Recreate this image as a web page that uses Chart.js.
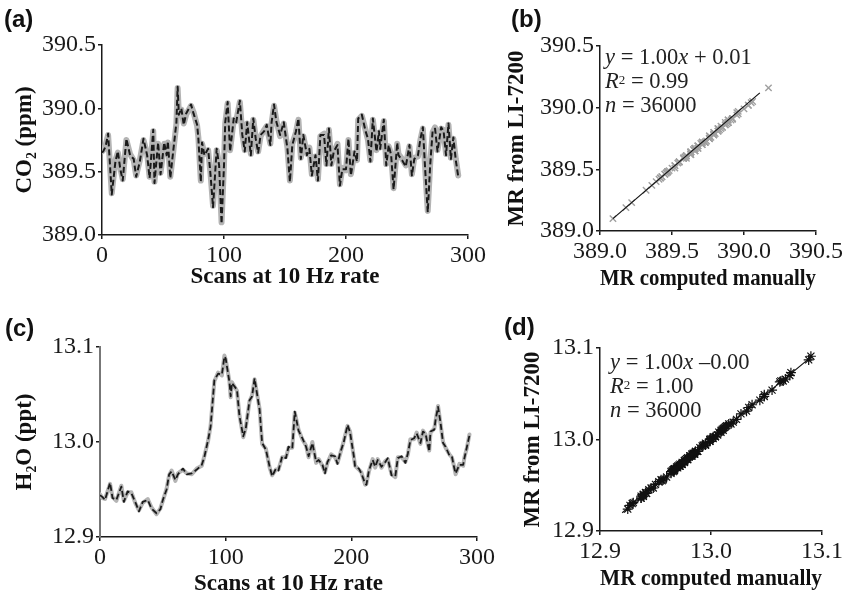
<!DOCTYPE html>
<html>
<head>
<meta charset="utf-8">
<script src="https://cdn.jsdelivr.net/npm/chart.js@4.4.1/dist/chart.umd.min.js"></script>
<style>
    body { margin: 0; background: #fff; width: 844px; height: 597px; position: relative; overflow: hidden; }
    canvas { position: absolute; }
    .lbl { position: absolute; font: bold 24px 'Liberation Sans', Arial, sans-serif; color: #111; line-height: 26px; }
    .eq { position: absolute; font: 22.5px 'Liberation Serif', serif; color: #222; line-height: 24px; white-space: nowrap; }
    .eq sup { font-size: 13px; vertical-align: top; position: relative; top: -1px; }
</style>
</head>
<body>
<canvas id="chartA" width="500" height="300" style="left:0;top:0"></canvas>
<canvas id="chartB" width="364" height="300" style="left:480px;top:0"></canvas>
<canvas id="chartC" width="500" height="297" style="left:0;top:300px"></canvas>
<canvas id="chartD" width="344" height="297" style="left:500px;top:300px"></canvas>

<div class="lbl" style="left:4px;top:6px">(a)</div>
<div class="lbl" style="left:511px;top:6px">(b)</div>
<div class="lbl" style="left:5px;top:315px">(c)</div>
<div class="lbl" style="left:504px;top:314px">(d)</div>

<div class="eq" style="left:605px;top:45px"><i>y</i> = 1.00<i>x</i> + 0.01<br><i>R</i><sup>2</sup> = 0.99<br><i>n</i> = 36000</div>
<div class="eq" style="left:610px;top:350px"><i>y</i> = 1.00<i>x</i> –0.00<br><i>R</i><sup>2</sup> = 1.00<br><i>n</i> = 36000</div>

<script>
    // ==================== DATA ====================
    // (a) CO2 over 300 scans: manual computation vs LI-7200 output
    const co2Scans = [
        0, 1, 3, 5, 8, 11, 13, 15, 17, 20,
        23, 26, 28, 31, 34, 37, 39, 42, 43, 46,
        48, 51, 53, 54, 56, 58, 61, 62, 63, 65,
        67, 69, 73, 75, 78, 79, 81, 82, 84, 87,
        89, 91, 94, 96, 98, 100, 101, 103, 105, 108,
        110, 113, 115, 117, 119, 122, 124, 126, 128, 130,
        133, 135, 138, 139, 141, 143, 146, 149, 152, 154,
        156, 159, 161, 163, 165, 168, 170, 172, 175, 177,
        179, 182, 184, 186, 188, 190, 193, 195, 197, 200,
        202, 204, 207, 209, 210, 213, 216, 218, 220, 222,
        225, 227, 228, 231, 233, 235, 237, 239, 242, 243,
        246, 249, 252, 254, 256, 259, 261, 263, 265, 267,
        269, 271, 273, 275, 278, 280, 282, 284, 286, 288,
        290, 292
    ];
    const co2Manual = [
        389.65, 389.66, 389.70, 389.80, 389.32, 389.58, 389.66, 389.52, 389.43, 389.76,
        389.63, 389.60, 389.46, 389.58, 389.76, 389.63, 389.45, 389.83, 389.41, 389.73,
        389.48, 389.73, 389.63, 389.74, 389.45, 389.63, 389.89, 390.17, 389.95, 390.00,
        389.87, 389.96, 390.03, 389.96, 389.87, 389.76, 389.42, 389.73, 389.63, 389.68,
        389.47, 389.22, 389.68, 389.55, 389.09, 389.55, 389.89, 390.05, 389.66, 389.92,
        389.89, 390.06, 389.79, 389.66, 389.89, 389.63, 389.92, 389.76, 389.65, 389.79,
        389.82, 389.87, 389.71, 389.89, 390.03, 389.89, 389.79, 389.89, 389.68, 389.42,
        389.71, 389.82, 389.92, 389.60, 389.79, 389.63, 389.68, 389.47, 389.63, 389.43,
        389.79, 389.79, 389.55, 389.84, 389.55, 389.66, 389.71, 389.39, 389.52, 389.52,
        389.76, 389.47, 389.66, 389.58, 389.92, 389.95, 389.82, 389.76, 389.58, 389.92,
        389.66, 389.82, 389.68, 389.91, 389.55, 389.71, 389.63, 389.36, 389.73, 389.63,
        389.59, 389.54, 389.71, 389.47, 389.60, 389.63, 389.76, 389.85, 389.50, 389.18,
        389.55, 389.82, 389.84, 389.66, 389.85, 389.82, 389.63, 389.88, 389.60, 389.77,
        389.59, 389.46
    ];
    const co2Licor = [
        389.66, 389.67, 389.71, 389.79, 389.33, 389.59, 389.65, 389.53, 389.44, 389.75,
        389.64, 389.59, 389.47, 389.59, 389.75, 389.64, 389.46, 389.82, 389.42, 389.72,
        389.49, 389.72, 389.64, 389.73, 389.46, 389.62, 389.88, 390.16, 389.96, 389.99,
        389.88, 389.95, 390.02, 389.97, 389.86, 389.77, 389.43, 389.72, 389.64, 389.67,
        389.48, 389.23, 389.67, 389.56, 389.10, 389.56, 389.88, 390.04, 389.67, 389.91,
        389.90, 390.05, 389.80, 389.67, 389.88, 389.64, 389.91, 389.77, 389.66, 389.78,
        389.83, 389.86, 389.72, 389.88, 390.02, 389.90, 389.78, 389.88, 389.69, 389.43,
        389.72, 389.81, 389.91, 389.61, 389.78, 389.64, 389.69, 389.48, 389.62, 389.44,
        389.78, 389.80, 389.56, 389.83, 389.56, 389.65, 389.72, 389.40, 389.53, 389.51,
        389.75, 389.48, 389.65, 389.59, 389.91, 389.94, 389.83, 389.75, 389.59, 389.91,
        389.67, 389.81, 389.69, 389.90, 389.56, 389.70, 389.64, 389.37, 389.72, 389.64,
        389.60, 389.55, 389.70, 389.48, 389.61, 389.62, 389.75, 389.84, 389.51, 389.19,
        389.56, 389.81, 389.85, 389.67, 389.84, 389.83, 389.64, 389.87, 389.61, 389.76,
        389.60, 389.47
    ];
    // (b) fitted line y = 1.00x + 0.01
    const co2FitX = [389.09, 390.11];
    const co2FitY = [389.10, 390.12];

    // (c) H2O over 300 scans
    const h2oScans = [
        0, 2, 4, 8, 10, 13, 17, 19, 22, 25,
        28, 31, 34, 38, 41, 45, 48, 50, 53, 55,
        57, 60, 62, 66, 69, 73, 77, 81, 83, 86,
        88, 91, 94, 97, 99, 100, 103, 104, 105, 109,
        111, 114, 116, 119, 121, 123, 127, 129, 132, 135,
        137, 140, 142, 145, 148, 150, 153, 155, 158, 161,
        164, 166, 169, 172, 174, 177, 179, 181, 184, 187,
        189, 191, 194, 197, 199, 202, 203, 206, 208, 211,
        212, 214, 217, 219, 221, 224, 227, 229, 232, 235,
        237, 240, 243, 245, 247, 250, 252, 255, 257, 259,
        262, 263, 266, 267, 269, 271, 273, 275, 278, 280,
        282, 283, 286, 289, 290, 292, 294
    ];
    const h2oManual = [
        12.944, 12.942, 12.939, 12.957, 12.941, 12.939, 12.953, 12.937, 12.948, 12.946,
        12.937, 12.927, 12.937, 12.939, 12.930, 12.925, 12.929, 12.939, 12.950, 12.966,
        12.969, 12.960, 12.966, 12.972, 12.966, 12.967, 12.971, 12.976, 12.984, 13.002,
        13.016, 13.065, 13.072, 13.071, 13.090, 13.088, 13.063, 13.048, 13.062, 13.055,
        13.027, 13.006, 13.014, 13.044, 13.048, 13.067, 13.034, 12.999, 12.992, 12.974,
        12.964, 12.972, 12.970, 12.985, 12.983, 12.995, 12.993, 13.032, 13.012, 13.004,
        12.995, 12.985, 12.999, 12.979, 12.981, 12.976, 12.967, 12.979, 12.986, 12.985,
        12.977, 12.988, 13.000, 13.018, 13.010, 12.985, 12.974, 12.972, 12.967, 12.956,
        12.955, 12.970, 12.981, 12.974, 12.981, 12.974, 12.979, 12.983, 12.965, 12.964,
        12.983, 12.985, 12.978, 12.988, 13.002, 13.004, 13.009, 12.999, 13.011, 13.009,
        12.990, 13.011, 13.013, 13.023, 13.037, 13.020, 12.999, 12.995, 12.986, 12.985,
        12.972, 12.967, 12.976, 12.976, 12.983, 12.995, 13.007
    ];
    const h2oLicor = [
        12.945, 12.941, 12.940, 12.956, 12.942, 12.938, 12.954, 12.938, 12.947, 12.947,
        12.936, 12.928, 12.936, 12.940, 12.931, 12.924, 12.930, 12.938, 12.951, 12.965,
        12.970, 12.959, 12.967, 12.971, 12.967, 12.966, 12.972, 12.975, 12.985, 13.001,
        13.017, 13.064, 13.073, 13.070, 13.091, 13.087, 13.064, 13.047, 13.063, 13.054,
        13.028, 13.005, 13.015, 13.043, 13.049, 13.066, 13.035, 12.998, 12.993, 12.973,
        12.965, 12.971, 12.971, 12.984, 12.984, 12.994, 12.994, 13.031, 13.013, 13.003,
        12.996, 12.984, 13.000, 12.978, 12.982, 12.975, 12.968, 12.978, 12.987, 12.984,
        12.978, 12.987, 13.001, 13.017, 13.011, 12.984, 12.975, 12.971, 12.968, 12.955,
        12.956, 12.969, 12.982, 12.973, 12.982, 12.973, 12.980, 12.982, 12.966, 12.963,
        12.984, 12.984, 12.979, 12.987, 13.003, 13.003, 13.010, 12.998, 13.012, 13.008,
        12.991, 13.010, 13.014, 13.022, 13.038, 13.019, 13.000, 12.994, 12.987, 12.984,
        12.973, 12.966, 12.977, 12.975, 12.984, 12.994, 13.008
    ];
    // (d) fitted line y = 1.00x - 0.00
    const h2oFitX = [12.92, 13.09];
    const h2oFitY = [12.92, 13.09];

    // ==================== HELPERS ====================
    const serif = 'Liberation Serif';
    const ink = '#1a1a1a';

    function pts(xs, ys) {
        return xs.map((x, i) => ({ x: x, y: ys[i] }));
    }

    // Scale with a fixed box size so the plot area lands where the reference has it
    function buildScale(o) {
        return {
            type: 'linear',
            min: o.min,
            max: o.max,
            ticks: {
                stepSize: o.step,
                padding: 2,
                color: ink,
                autoSkip: false,
                maxRotation: 0,
                font: { family: serif, size: 24 },
                callback: v => Number(v).toFixed(o.dec)
            },
            grid: { drawOnChartArea: false, drawTicks: true, tickLength: 4, color: ink, lineWidth: 1.5 },
            border: { display: true, color: o.axisColor || ink, width: o.axisWidth || 1.5 },
            title: {
                display: true,
                text: o.title,
                color: '#111',
                font: { family: serif, size: 23, weight: 'bold', lineHeight: 1 },
                padding: { top: o.titlePad || 0, bottom: 0 }
            },
            afterFit: s => {
                if (s.isHorizontal()) {
                    s.height = o.size;
                    s.paddingLeft = 0;
                    s.paddingRight = 0;
                } else {
                    s.width = o.size;
                    s.paddingTop = 0;
                    s.paddingBottom = 0;
                }
            }
        };
    }

    function makeChart(id, datasets, padding, xScale, yScale) {
        return new Chart(document.getElementById(id), {
            type: 'scatter',
            data: { datasets: datasets },
            options: {
                responsive: false,
                animation: false,
                events: [],
                layout: { padding: padding },
                plugins: { legend: { display: false }, tooltip: { enabled: false } },
                scales: { x: xScale, y: yScale }
            }
        });
    }

    // dashed black trace on top of a broad grey trace
    function traceSets(xs, manual, licor, dashW, greyW) {
        return [
            { data: pts(xs, manual), showLine: true, pointRadius: 0, borderColor: ink, borderWidth: dashW, borderDash: [6, 3], borderJoinStyle: 'round', tension: 0 },
            { data: pts(xs, licor), showLine: true, pointRadius: 0, borderColor: '#b4b4b4', borderWidth: greyW, borderJoinStyle: 'round', borderCapStyle: 'round', tension: 0 }
        ];
    }

    // ==================== CHARTS ====================
    // (a) time series of CO2
    makeChart('chartA', traceSets(co2Scans, co2Manual, co2Licor, 2, 6),
        { left: 0, right: 32, top: 45, bottom: 11 },
        buildScale({ min: 0, max: 300, step: 100, dec: 0, title: 'Scans at 10 Hz rate', size: 54 }),
        buildScale({ min: 389, max: 390.5, step: 0.5, dec: 1, title: 'CO₂ (ppm)', size: 102, titlePad: 14 }));

    // (b) LI-7200 vs manual CO2
    makeChart('chartB', [
        { data: pts(co2FitX, co2FitY), showLine: true, pointRadius: 0, borderColor: '#111', borderWidth: 1.2 },
        { data: pts(co2Manual, co2Licor), pointStyle: 'crossRot', pointRadius: 4.5, borderColor: '#a0a0a0', borderWidth: 1.4 }
    ], { left: 0, right: 28, top: 46, bottom: 9 },
        buildScale({ min: 389, max: 390.5, step: 0.5, dec: 1, title: 'MR computed manually', size: 60 }),
        buildScale({ min: 389, max: 390.5, step: 0.5, dec: 1, title: 'MR from LI-7200', size: 120, titlePad: 26 }));

    // (c) time series of H2O
    makeChart('chartC', traceSets(h2oScans, h2oManual, h2oLicor, 1.8, 4),
        { left: 0, right: 23, top: 47, bottom: 1 },
        buildScale({ min: 0, max: 300, step: 100, dec: 0, title: 'Scans at 10 Hz rate', size: 59 }),
        buildScale({ min: 12.9, max: 13.1, step: 0.1, dec: 1, title: 'H₂O (ppt)', size: 100, titlePad: 14, axisColor: '#777', axisWidth: 2 }));

    // (d) LI-7200 vs manual H2O
    makeChart('chartD', [
        { data: pts(h2oFitX, h2oFitY), showLine: true, pointRadius: 0, borderColor: '#111', borderWidth: 1.2 },
        { data: pts(h2oManual, h2oLicor), pointStyle: 'star', pointRadius: 5, borderColor: '#111', borderWidth: 1.2 }
    ], { left: 0, right: 22, top: 48, bottom: 6 },
        buildScale({ min: 12.9, max: 13.1, step: 0.1, dec: 1, title: 'MR computed manually', size: 60 }),
        buildScale({ min: 12.9, max: 13.1, step: 0.1, dec: 1, title: 'MR from LI-7200', size: 100, titlePad: 22 }));
</script>
</body>
</html>
